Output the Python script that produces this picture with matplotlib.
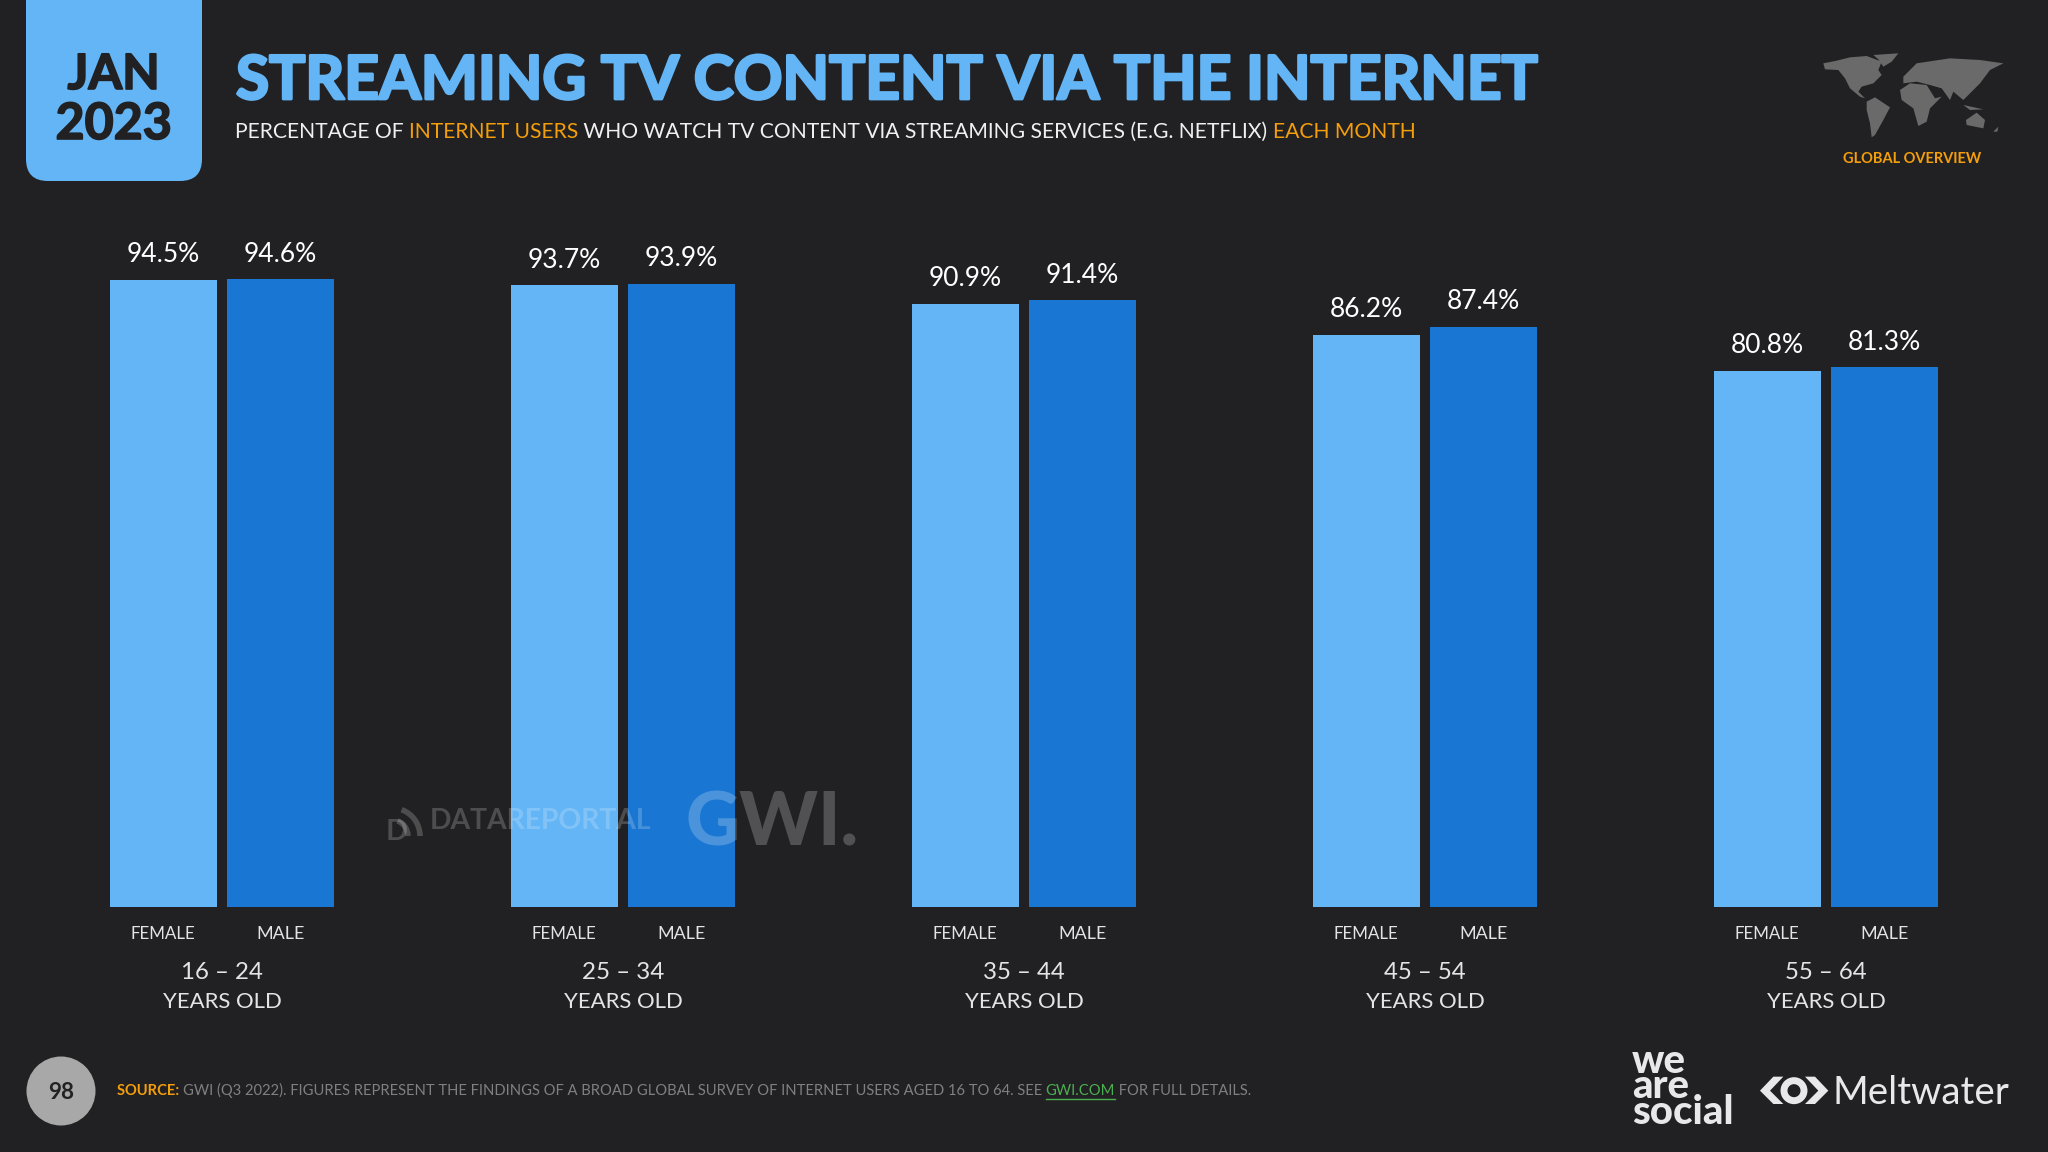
import numpy as np
import matplotlib
matplotlib.use("Agg")
import matplotlib.pyplot as plt
import matplotlib.patheffects as pe
from matplotlib.patches import FancyBboxPatch, Circle, Polygon, Arc

# valores
age_groups = ["16 – 24", "25 – 34", "35 – 44", "45 – 54", "55 – 64"]
female = [94.5, 93.7, 90.9, 86.2, 80.8]
male = [94.6, 93.9, 91.4, 87.4, 81.3]
bar_labels = ["FEMALE", "MALE"]

BG = "#212123"
LIGHT = "#64B5F6"
DARK = "#1976D2"
ORANGE = "#F59E0B"
FONT = "Lato"

W, H = 2048, 1152
fig = plt.figure(figsize=(W / 100, H / 100), dpi=100, facecolor=BG)
renderer = fig.canvas.get_renderer()

# --- barras: eje en px de la imagen (base 906.7, 6.635 px por punto) ---
base_px = 906.7
px_per_pct = 6.635
ax = fig.add_axes([0, (H - base_px) / H, 1, 100 * px_per_pct / H])
ax.patch.set_alpha(0)
ax.set_ylim(0, 100)
spacing, first_px = 401.0, 222.0
ax.set_xlim(-first_px / spacing, (W - first_px) / spacing)
ax.axis("off")

x = np.arange(len(age_groups))
offset = 58.7 / spacing
width = 107 / spacing
bars_f = ax.bar(x - offset, female, width, color=LIGHT)
bars_m = ax.bar(x + offset, male, width, color=DARK)
for bars, vals in ((bars_f, female), (bars_m, male)):
    ax.bar_label(bars, labels=[f"{v:.1f}%" for v in vals], padding=9, color="white",
                 fontsize=19, family=FONT)

# capa de decoracion en pixeles
deco = fig.add_axes([0, 0, 1, 1], zorder=5)
deco.patch.set_alpha(0)
deco.set_xlim(0, W)
deco.set_ylim(H, 0)
deco.axis("off")


def fit_text(x0, y0, s, target, ha="left", **kw):
    t = deco.text(x0, y0, s, fontsize=20, ha=ha, va="baseline", family=kw.pop("family", FONT), **kw)
    t.set_fontsize(20 * target / t.get_window_extent(renderer).width)
    return t


def text_row(x0, x1, y0, parts):
    # parts: (texto, color, weight); todo al mismo tamano y que llene x0..x1
    size = 20
    total = 0
    for s, c, w in parts:
        t = deco.text(0, 0, s.replace(" ", "\u00a0"), fontsize=size, family=FONT, fontweight=w)
        total += t.get_window_extent(renderer).width
        t.remove()
    size = size * (x1 - x0) / total
    pos = x0
    out = []
    for s, c, w in parts:
        t = deco.text(pos, y0, s.replace(" ", "\u00a0"), fontsize=size, family=FONT, fontweight=w,
                      color=c, ha="left", va="baseline")
        ext = t.get_window_extent(renderer).width
        out.append((pos, pos + ext))
        pos += ext
    return out


# etiquetas bajo las barras
for i, g in enumerate(age_groups):
    cx = first_px + i * spacing
    fit_text(cx - 58.7, 939, bar_labels[0], 65, ha="center", color="#e4e4e4")
    fit_text(cx + 58.7, 939, bar_labels[1], 48, ha="center", color="#e4e4e4")
    fit_text(cx, 979, g, 82, ha="center", color="#e4e4e4")
    fit_text(cx, 1008, "YEARS OLD", 119, ha="center", color="#e4e4e4")

# pestana de fecha
deco.add_patch(FancyBboxPatch((26, -60), 176, 241, boxstyle="round,pad=0,rounding_size=22",
                              fc=LIGHT, ec="none"))
heavy_dark = [pe.withStroke(linewidth=1.2, foreground=BG)]
fit_text(113.5, 89, "JAN", 92, ha="center", color=BG, fontweight="bold", path_effects=heavy_dark)
fit_text(113.5, 139, "2023", 116, ha="center", color=BG, fontweight="bold", path_effects=heavy_dark)

# titulo
fit_text(236, 99, "STREAMING TV CONTENT VIA THE INTERNET", 1301, color=LIGHT, fontweight="bold",
         path_effects=[pe.withStroke(linewidth=2, foreground=LIGHT)])
text_row(235, 1419, 138, [
    ("PERCENTAGE OF ", "#f0f0f0", "normal"),
    ("INTERNET USERS", ORANGE, "normal"),
    (" WHO WATCH TV CONTENT VIA STREAMING SERVICES (E.G. NETFLIX) ", "#f0f0f0", "normal"),
    ("EACH MONTH", ORANGE, "normal"),
])

# mapa esquematico (coordenadas del recorte ampliado)
continents = [
    [(220, 130), (260, 122), (300, 112), (350, 108), (395, 125), (385, 150), (395, 165), (370, 190),
     (335, 200), (325, 215), (345, 235), (330, 230), (300, 205), (285, 175), (265, 150), (225, 148)],
    [(370, 105), (445, 100), (425, 125), (400, 140), (385, 118)],
    [(350, 245), (375, 232), (420, 262), (400, 300), (375, 345), (365, 352), (360, 310), (350, 270)],
    [(450, 210), (480, 190), (530, 195), (555, 235), (575, 230), (540, 265), (530, 305), (505, 318),
     (490, 265), (455, 240)],
    [(460, 170), (500, 130), (600, 115), (690, 120), (760, 130), (720, 150), (690, 190), (660, 220),
     (640, 240), (610, 215), (600, 240), (575, 205), (540, 195), (500, 185), (460, 190)],
    [(648, 300), (680, 278), (705, 300), (700, 325), (650, 315)],
    [(640, 255), (700, 268), (660, 270)],
    [(730, 335), (745, 320), (742, 335)],
]
for poly in continents:
    pts = [(1750 + px / 3, 20 + py / 3) for px, py in poly]
    deco.add_patch(Polygon(pts, closed=True, fc="#6a6a6a", ec="none"))
fit_text(1843, 163, "GLOBAL OVERVIEW", 139, color=ORANGE, fontweight="bold")

# marcas de agua
wm = dict(color="white", alpha=0.2, fontweight="bold")
fit_text(430, 829, "DATAREPORTAL", 222, **wm)
fit_text(686, 846, "GWI.", 173, fontweight="black", color="white", alpha=0.22)
fit_text(386, 840, "D", 22, **wm)
for r in (16, 28):
    deco.add_patch(Arc((392, 836), r * 2, r * 2, theta1=-70, theta2=0, ec="white", lw=4, alpha=0.2))

# pie
deco.add_patch(Circle((61, 1091), 34.5, fc="#a8a8a8", ec="none"))
fit_text(61, 1099, "98", 26, ha="center", color="#222222", fontweight="bold")
spans = text_row(117, 1253, 1095, [
    ("SOURCE: ", ORANGE, "bold"),
    ("GWI (Q3 2022). FIGURES REPRESENT THE FINDINGS OF A BROAD GLOBAL SURVEY OF INTERNET USERS AGED 16 TO 64. SEE ",
     "#808080", "normal"),
    ("GWI.COM", "#4CAF50", "normal"),
    (" FOR FULL DETAILS.", "#808080", "normal"),
])
deco.plot(spans[2], [1098.5, 1098.5], color="#4CAF50", lw=1)

# logos
logo = "#e8e8ea"
fit_text(1632, 1124, "we\nare\nsocial", 102, color=logo, fontweight="black", linespacing=0.62)
fit_text(1833, 1104, "Meltwater", 177, color=logo)
chev_l = [(540, 182), (580, 140), (610, 140), (570, 182), (610, 222), (580, 222)]
chev_r = [(745, 182), (705, 140), (675, 140), (715, 182), (675, 222), (705, 222)]
for poly in (chev_l, chev_r):
    deco.add_patch(Polygon([(1580 + a / 3, 1030 + b / 3) for a, b in poly], closed=True, fc=logo, ec="none"))
deco.add_patch(Circle((1580 + 642 / 3, 1030 + 182 / 3), 10, fc="none", ec=logo, lw=5))

fig.savefig("out.png", dpi=100, facecolor=BG)
